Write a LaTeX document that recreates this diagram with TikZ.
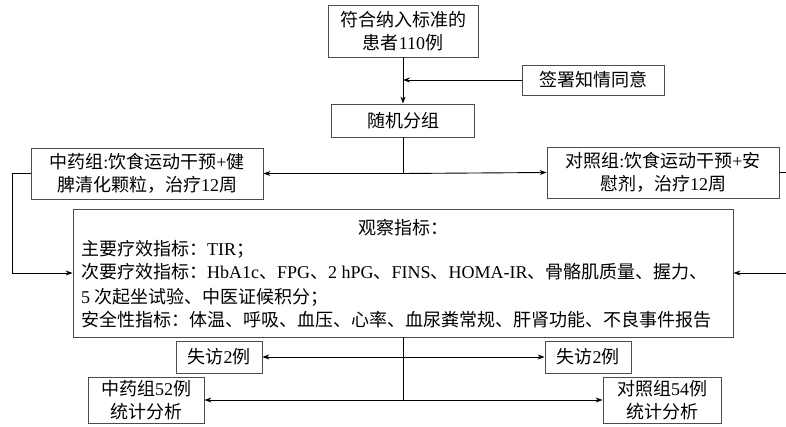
\documentclass[tikz,border=0pt]{standalone}
\usepackage{fontspec}
\setmainfont{Noto Sans CJK SC}
\newfontfamily\latf{Liberation Serif}
\newcommand\en[1]{{\latf #1}}
\usetikzlibrary{arrows.meta}
\tikzset{
  box/.style={draw=black!70, line width=0.8pt, inner sep=0pt, align=center,
    font=\fontsize{18}{23}\selectfont},
  txt/.style={inner sep=0pt, font=\fontsize{18}{23}\selectfont},
  conn/.style={line width=0.9pt, black},
  arr/.style={conn, -{Stealth[length=7pt,width=5pt]}},
  darr/.style={conn, {Stealth[length=7pt,width=5pt]}-{Stealth[length=7pt,width=5pt]}},
}
\begin{document}
\begin{tikzpicture}[x=1pt,y=-1pt]
\useasboundingbox (0,0) rectangle (786,427);
\node[box, minimum width=150pt, minimum height=52pt] (top) at (403,31) {符合纳入标准的\\患者\en{110}例};
\node[box, minimum width=142pt, minimum height=30pt] (sign) at (593,80) {签署知情同意};
\node[box, minimum width=143pt, minimum height=33pt] (rand) at (403,120.5) {随机分组};
\node[box, minimum width=232pt, minimum height=51pt] (zy) at (147,173.5) {中药组\en{:}饮食运动干预\en{+}健\\脾清化颗粒，治疗\en{12}周};
\node[box, minimum width=232pt, minimum height=51pt] (dz) at (663,172.5) {对照组\en{:}饮食运动干预\en{+}安\\慰剂，治疗\en{12}周};
\node[box, minimum width=660pt, minimum height=128pt] (obs) at (403,273) {};
\node[txt] (t0) at (403,228) {观察指标：};
\node[txt, anchor=base west] (t1) at (81,256) {主要疗效指标：\en{TIR}；};
\node[txt, anchor=base west] (t2) at (81,279) {次要疗效指标：\en{HbA1c}、\en{FPG}、\en{2 hPG}、\en{FINS}、\en{HOMA-IR}、骨骼肌质量、握力、};
\node[txt, anchor=base west] (t3) at (81,303) {\en{5 }次起坐试验、中医证候积分；};
\node[txt, anchor=base west] (t4) at (81,326) {安全性指标：体温、呼吸、血压、心率、血尿粪常规、肝肾功能、不良事件报告};
\node[box, minimum width=86pt, minimum height=32pt] (ls1) at (219,357) {失访\en{2}例};
\node[box, minimum width=86pt, minimum height=32pt] (ls2) at (588,357) {失访\en{2}例};
\node[box, minimum width=116pt, minimum height=46pt] (zy52) at (146,400) {中药组\en{52}例\\统计分析};
\node[box, minimum width=118pt, minimum height=46pt] (dz54) at (662,400) {对照组\en{54}例\\统计分析};
% connectors
\draw[arr] (top.south) -- (rand.north);
\coordinate (j1) at (top.south |- sign.west);
\draw[arr] (sign.west) -- (j1);
\coordinate (j2) at (rand.south |- zy.east);
\draw[conn] (rand.south) -- (j2);
\draw[arr] (j2) -- (zy.east);
\draw[arr] (j2) -- (dz.west);
\coordinate (l1) at (12,173.5);
\coordinate (l2) at (12,273);
\draw[arr] (zy.west) -- (l1) -- (l2) -- (obs.west);
\coordinate (r1) at (792,172.5);
\coordinate (r2) at (792,273);
\draw[arr] (dz.east) -- (r1) -- (r2) -- (obs.east);
\coordinate (b1) at (obs.south |- zy52.east);
\draw[conn] (obs.south) -- (b1);
\draw[darr] (ls1.east) -- (ls2.west);
\draw[darr] (zy52.east) -- (dz54.west);
\end{tikzpicture}
\end{document}
